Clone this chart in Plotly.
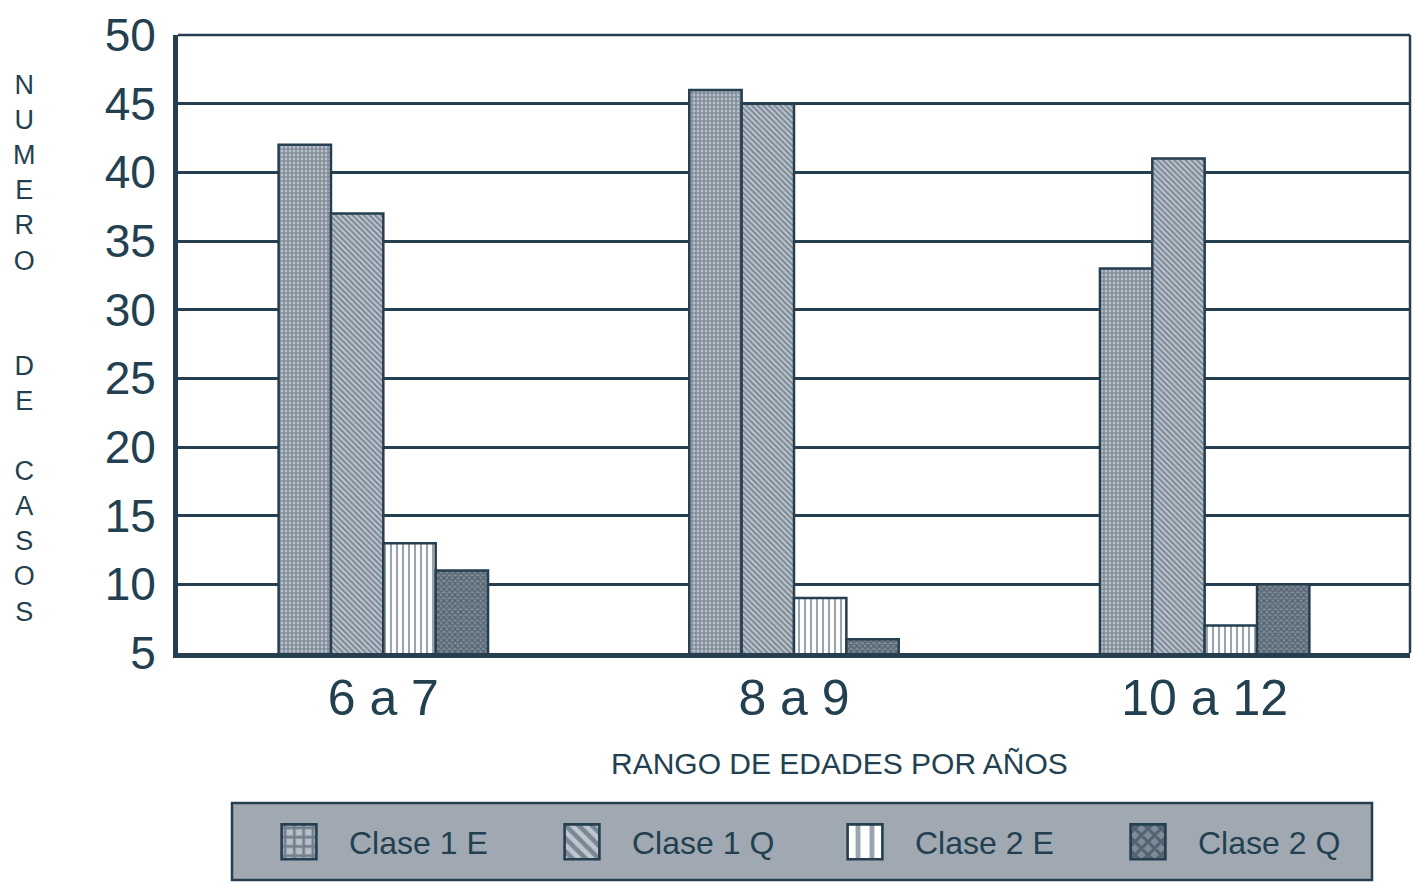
import plotly.graph_objects as go

categories = ["6 a 7", "8 a 9", "10 a 12"]
series_names = ["Clase 1 E", "Clase 1 Q", "Clase 2 E", "Clase 2 Q"]
clase1_e = [42, 46, 33]
clase1_q = [37, 45, 41]
clase2_e = [13, 9, 7]
clase2_q = [11, 6, 10]
y_ticks = [5, 10, 15, 20, 25, 30, 35, 40, 45, 50]

INK = "#263f50"
TEXT = "#22404f"

styles = [
    dict(shape="+", fgcolor="#2c4151", bgcolor="#b8bfc8", size=4, solidity=0.5),
    dict(shape="\\", fgcolor="#34495a", bgcolor="#bfc6ce", size=4, solidity=0.5),
    dict(shape="|", fgcolor="#34495a", bgcolor="#ffffff", size=6, solidity=0.35),
    dict(shape="x", fgcolor="#24394a", bgcolor="#7f8b96", size=4, solidity=0.55),
]

fig = go.Figure()
for name, vals, st in zip(series_names, [clase1_e, clase1_q, clase2_e, clase2_q], styles):
    fig.add_trace(go.Bar(
        name=name, x=categories, y=vals,
        marker=dict(color=st["bgcolor"], pattern=st, line=dict(color=INK, width=2.5)),
    ))

W, H = 1416, 884
ml, mr, mt, mb = 178, 6, 35, 231
PW, PH = W - ml - mr, H - mt - mb


def px_x(x):
    return (x - ml) / PW


def px_y(y):
    return 1 - (y - mt) / PH


fig.update_layout(
    width=W, height=H,
    margin=dict(l=ml, r=mr, t=mt, b=mb, autoexpand=False),
    paper_bgcolor="white", plot_bgcolor="white",
    barmode="group", bargap=0.49, bargroupgap=0,
    font=dict(family="Liberation Sans, Arial, sans-serif", color=TEXT),
    showlegend=True,
    legend=dict(
        orientation="h", x=px_x(245), xanchor="left",
        y=px_y(842), yanchor="middle",
        bgcolor="rgba(0,0,0,0)", borderwidth=0,
        font=dict(size=32, color=TEXT), entrywidth=228, itemwidth=40,
        traceorder="normal",
    ),
    xaxis=dict(
        showline=True, linecolor=INK, linewidth=5,
        tickfont=dict(size=50, color=TEXT), ticks="", showgrid=False,
        ticklabelstandoff=-3,
    ),
    yaxis=dict(
        range=[5, 50], tickvals=y_ticks, ticktext=[str(v) for v in y_ticks],
        showline=True, linecolor=INK, linewidth=5,
        showgrid=True, gridcolor=INK, gridwidth=2.5,
        tickfont=dict(size=46, color=TEXT), ticks="", ticklabelstandoff=8,
        zeroline=False,
    ),
    shapes=[
        dict(type="line", xref="paper", yref="paper", x0=1, x1=1, y0=0, y1=1,
             line=dict(color=INK, width=2.5)),
        dict(type="line", xref="paper", yref="paper", x0=0, x1=1, y0=1, y1=1,
             line=dict(color=INK, width=2.5)),
        dict(type="rect", xref="paper", yref="paper", layer="above",
             x0=px_x(232), x1=px_x(1372), y0=px_y(880), y1=px_y(803),
             fillcolor="#a0a9b2", line=dict(color=INK, width=2.5)),
    ],
    annotations=[
        dict(text="RANGO DE EDADES POR AÑOS", xref="paper", yref="paper",
             x=px_x(839), y=px_y(763),
             xanchor="center", yanchor="middle", showarrow=False,
             font=dict(size=30, color=TEXT)),
        dict(text="<br>".join(list("NUMERO") + ["", ""] + list("DE") + [""] + list("CASOS")),
             xref="paper", yref="paper",
             x=px_x(24), y=px_y(348),
             xanchor="center", yanchor="middle", showarrow=False,
             font=dict(size=27, color=TEXT)),
    ],
)

post = """
var gd = document.getElementsByClassName('plotly-graph-div')[0];
function bigSwatches(){
  document.querySelectorAll('.legend, .legend .scrollbox').forEach(function(e){
    e.removeAttribute('clip-path');
  });
  document.querySelectorAll('.legend .scrollbox').forEach(function(e){
    e.setAttribute('transform', 'translate(54,0)');
  });
  document.querySelectorAll('.legendpoints path').forEach(function(p){
    p.setAttribute('transform', 'scale(2.9)');
    p.style.strokeWidth = '0.9px';
  });
}
bigSwatches();
if (gd && gd.on) { gd.on('plotly_afterplot', bigSwatches); }
"""

fig.write_html("out.html", post_script=post)
